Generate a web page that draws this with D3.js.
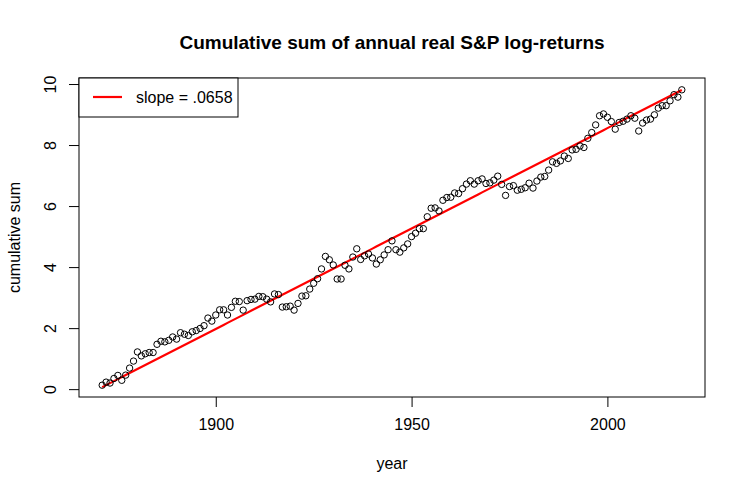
<!DOCTYPE html>
<html>
<head>
<meta charset="utf-8">
<script src="https://cdn.jsdelivr.net/npm/d3@7"></script>
<style>
	body { margin: 0; background: #fff; }
	svg { display: block; font-family: "Liberation Sans", Arial, sans-serif; }
</style>
</head>
<body>
<svg id="chart" width="746" height="494"></svg>
<script>
// cumulative sum of annual real log-returns, one value per year from 1871
var firstYear = 1871;
var cumSum = [
	0.13, 0.23, 0.20, 0.35, 0.45, 0.29, 0.46, 0.69, 0.92, 1.22,
	1.09, 1.16, 1.20, 1.20, 1.47, 1.57, 1.55, 1.60, 1.71, 1.64,
	1.85, 1.80, 1.76, 1.88, 1.92, 1.99, 2.08, 2.33, 2.23, 2.43,
	2.60, 2.60, 2.43, 2.68, 2.88, 2.87, 2.59, 2.90, 2.94, 2.95,
	3.04, 3.03, 2.95, 2.86, 3.12, 3.10, 2.69, 2.70, 2.72, 2.59,
	2.81, 3.05, 3.06, 3.28, 3.47, 3.62, 3.94, 4.35, 4.24, 4.07,
	3.61, 3.61, 4.06, 3.94, 4.33, 4.60, 4.25, 4.37, 4.43, 4.30,
	4.10, 4.24, 4.40, 4.57, 4.86, 4.57, 4.49, 4.63, 4.76, 5.00,
	5.11, 5.26, 5.26, 5.65, 5.93, 5.94, 5.84, 6.19, 6.28, 6.29,
	6.43, 6.41, 6.57, 6.72, 6.83, 6.72, 6.83, 6.89, 6.74, 6.76,
	6.85, 6.98, 6.71, 6.35, 6.64, 6.67, 6.52, 6.55, 6.60, 6.75,
	6.59, 6.82, 6.95, 6.97, 7.18, 7.45, 7.40, 7.48, 7.64, 7.56,
	7.84, 7.86, 7.97, 7.92, 8.22, 8.41, 8.66, 8.96, 9.02, 8.91,
	8.77, 8.52, 8.74, 8.78, 8.85, 8.96, 8.88, 8.46, 8.72, 8.82,
	8.85, 8.99, 9.21, 9.29, 9.29, 9.45, 9.65, 9.57, 9.81
];
var years = d3.range(firstYear, firstYear + cumSum.length);
var slope = 0.0658;
var xTicks = [1900, 1950, 2000];
var yTicks = [0, 2, 4, 6, 8, 10];
var legendText = ['slope = .0658'];

var box = { left: 79, right: 705, top: 78, bottom: 397 };

// R style axis ranges: data range stretched by 4% each side
function padded(ext) {
	var d = (ext[1] - ext[0]) * 0.04;
	return [ext[0] - d, ext[1] + d];
}

var x = d3.scaleLinear().domain(padded(d3.extent(years))).range([box.left, box.right]);
var y = d3.scaleLinear().domain(padded(d3.extent(cumSum))).range([box.bottom, box.top]);

var svg = d3.select('#chart');

var points = years.map(function(yr, i) { return { year: yr, v: cumSum[i], fit: slope * (i + 1) }; });

// fitted line
var line = d3.line()
	.x(function(d) { return x(d.year); })
	.y(function(d) { return y(d.fit); });

svg.append('path')
	.datum(points)
	.attr('d', line)
	.attr('fill', 'none')
	.attr('stroke', '#ff0000')
	.attr('stroke-width', 2.2);

svg.append('g').selectAll('circle')
	.data(points)
	.enter().append('circle')
	.attr('cx', function(d) { return x(d.year); })
	.attr('cy', function(d) { return y(d.v); })
	.attr('r', 3.2)
	.attr('fill', 'none')
	.attr('stroke', '#000')
	.attr('stroke-width', 1);

// plot box
svg.append('rect')
	.attr('x', box.left).attr('y', box.top)
	.attr('width', box.right - box.left).attr('height', box.bottom - box.top)
	.attr('fill', 'none').attr('stroke', '#000').attr('stroke-width', 1);

var xAxis = svg.append('g')
	.attr('transform', 'translate(0,' + box.bottom + ')')
	.call(d3.axisBottom(x).tickValues(xTicks).tickSize(10).tickSizeOuter(0).tickFormat(d3.format('d')));
xAxis.select('.domain').remove();
xAxis.selectAll('text')
	.attr('y', 33).attr('dy', 0)
	.attr('fill', '#000')
	.style('font-size', '16px');

var yAxis = svg.append('g')
	.attr('transform', 'translate(' + box.left + ',0)')
	.call(d3.axisLeft(y).tickValues(yTicks).tickSize(10).tickSizeOuter(0));
yAxis.select('.domain').remove();
yAxis.selectAll('text')
	.attr('x', 0).attr('dy', 0)
	.attr('text-anchor', 'middle')
	.attr('transform', 'translate(-23,0) rotate(-90)')
	.attr('fill', '#000')
	.style('font-size', '16px');
svg.selectAll('.tick line').attr('stroke', '#000');

// titles
svg.append('text')
	.attr('x', (box.left + box.right) / 2).attr('y', 49)
	.attr('text-anchor', 'middle')
	.style('font-size', '19px').style('font-weight', 'bold')
	.text('Cumulative sum of annual real S&P log-returns');

svg.append('text')
	.attr('x', (box.left + box.right) / 2).attr('y', 469)
	.attr('text-anchor', 'middle')
	.style('font-size', '16px')
	.text('year');

svg.append('text')
	.attr('transform', 'translate(20,' + ((box.top + box.bottom) / 2) + ') rotate(-90)')
	.attr('text-anchor', 'middle')
	.style('font-size', '16px')
	.text('cumulative sum');

// legend, top left corner of the plot
var legend = svg.append('g').attr('transform', 'translate(' + box.left + ',' + box.top + ')');
legend.append('rect')
	.attr('width', 159).attr('height', 39)
	.attr('fill', '#fff').attr('stroke', '#000').attr('stroke-width', 1);
legend.append('line')
	.attr('x1', 14).attr('x2', 43).attr('y1', 19).attr('y2', 19)
	.attr('stroke', '#ff0000').attr('stroke-width', 2.2);
legend.selectAll('text.lab')
	.data(legendText)
	.enter().append('text')
	.attr('class', 'lab')
	.attr('x', 57).attr('y', 25)
	.style('font-size', '16px')
	.text(function(d) { return d; });
</script>
</body>
</html>
